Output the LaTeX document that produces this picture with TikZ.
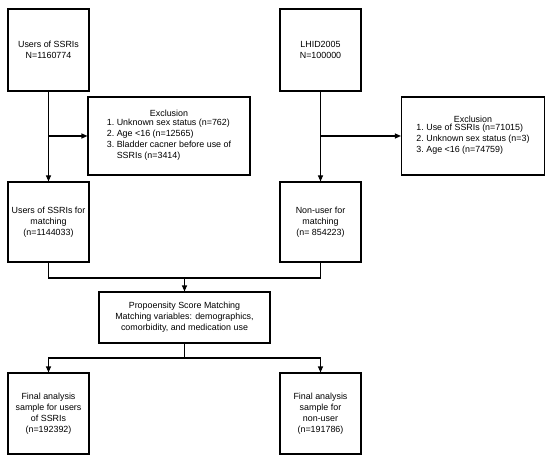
\documentclass[tikz,border=0pt]{standalone}
\usepackage{fontspec}
\setmainfont{Liberation Sans}
\usepackage{tikz}
\usetikzlibrary{positioning, arrows.meta, calc}

\tikzset{
  box/.style={draw, line width=1.1pt, align=center, inner sep=2pt,
    font=\fontsize{8.9}{11}\selectfont},
  arr/.style={-{Triangle[length=6pt, width=5pt]}, line width=1.1pt}
}

\begin{document}
\begin{tikzpicture}[x=1pt, y=-1pt]
  \useasboundingbox (0,0) rectangle (550,460);

  % source populations
  \node[box, minimum width=81pt, minimum height=82pt] (users) at (48.5,50)
    {Users of SSRIs\\N=1160774};
  \node[box, minimum width=81pt, minimum height=82pt] (lhid) at (320.5,50)
    {LHID2005\\N=100000};

  % exclusions
  \node[box, minimum width=162pt, minimum height=78pt] (excl1) at (169,136)
    {Exclusion\\
     \begin{tabular}{@{}r@{~}l@{}}
       1. & Unknown sex status (n=762)\\
       2. & Age {<}16 (n=12565)\\
       3. & Bladder cacner before use of\\
          & SSRIs (n=3414)
     \end{tabular}};
  \node[box, minimum width=143pt, minimum height=78pt] (excl2) at (473,136)
    {Exclusion\\
     \begin{tabular}{@{}r@{~}l@{}}
       1. & Use of SSRIs (n=71015)\\
       2. & Unknown sex status (n=3)\\
       3. & Age {<}16 (n=74759)
     \end{tabular}};

  % matching candidates
  \node[box, minimum width=81pt, minimum height=80pt] (usersm) at (48.5,222)
    {Users of SSRIs for\\matching\\(n=1144033)};
  \node[box, minimum width=81pt, minimum height=80pt] (nonm) at (320.5,222)
    {Non-user for\\matching\\(n= 854223)};

  \node[box, minimum width=171pt, minimum height=51pt] (psm) at (184.5,317.5)
    {Propoensity Score Matching\\Matching variables: demographics,\\comorbidity, and medication use};

  % final samples
  \node[box, minimum width=81pt, minimum height=81pt] (finu) at (48.5,413.5)
    {Final analysis\\sample for users\\of SSRIs\\(n=192392)};
  \node[box, minimum width=81pt, minimum height=81pt] (finn) at (320.5,413.5)
    {Final analysis\\sample for\\non-user\\(n=191786)};

  \coordinate (join) at (184.5,278);
  \coordinate (split) at (184.5,358);

  \draw[arr] (users) -- (usersm);
  \draw[arr] (users.south |- excl1.west) -- (excl1.west);
  \draw[arr] (lhid) -- (nonm);
  \draw[arr] (lhid.south |- excl2.west) -- (excl2.west);
  \draw[line width=1.1pt] (usersm.south) |- (join) -| (nonm.south);
  \draw[arr] (join) -- (psm);
  \draw[line width=1.1pt] (psm) -- (split);
  \draw[arr] (split) -| (finu);
  \draw[arr] (split) -| (finn);
\end{tikzpicture}
\end{document}
